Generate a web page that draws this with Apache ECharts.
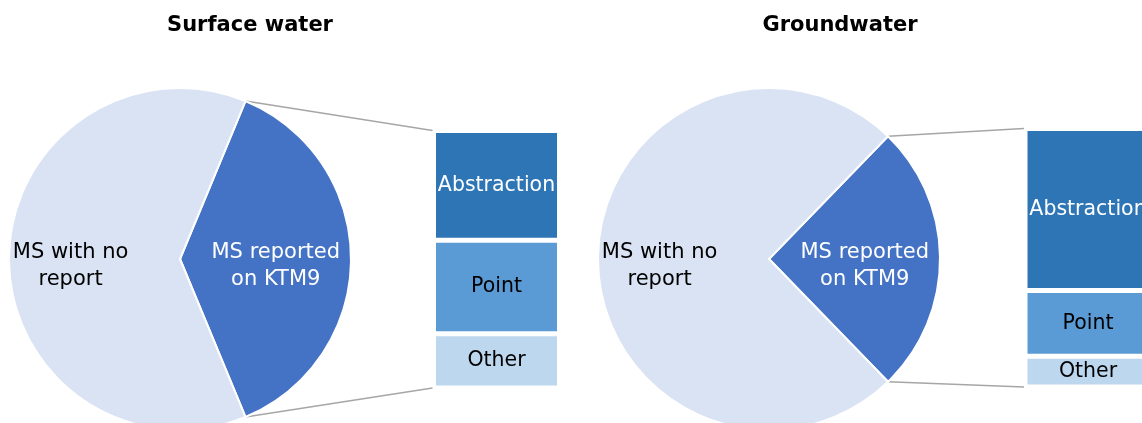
<!DOCTYPE html>
<html>
<head>
<meta charset="utf-8">
<script src="https://cdn.jsdelivr.net/npm/echarts@6/dist/echarts.min.js"></script>
<style>
html, body { margin: 0; padding: 0; background: #fff; }
#chart { width: 1142px; height: 423px; }
</style>
</head>
<body>
<div id="chart"></div>
<script>
// data
const titles = ["Surface water", "Groundwater"]
const pieNames = ["MS reported\non KTM9", "MS with no\nreport"]
const surfacePie = [37.5, 62.5]
const groundPie = [25.5, 74.5]
const barNames = ["Other", "Point", "Abstraction"]   // stacked bottom-up
const surfaceBar = [21.1, 36.3, 42.6]
const groundBar = [11.9, 25.4, 62.7]

const font = "DejaVu Sans"
const pieColors = ["#4472C4", "#DAE3F3"]
const pieText = ["#fff", "#000"]
const pieLabelR = [0.56, 0.64]   // label distance from centre, share of radius
const barColors = ["#BDD7EE", "#5B9BD5", "#2E75B6"]
const barText = ["#000", "#000", "#fff"]
const R = 171

const panels = [
	{ pie: surfacePie, bar: surfaceBar, center: [180, 259], titleX: 250,
		grid: { left: 433.5, top: 130.5, width: 126, height: 257.5 } },
	{ pie: groundPie, bar: groundBar, center: [769, 259], titleX: 840,
		grid: { left: 1025, top: 128.5, width: 126, height: 258.5 } }
]

const sum = a => a.reduce((s, v) => s + v, 0)
const halfAngle = p => p.pie[0] / sum(p.pie) * 180

const series = []
panels.forEach((p, i) => {
	series.push({
		type: "pie",
		center: p.center,
		radius: R,
		startAngle: halfAngle(p),
		clockwise: true,
		silent: true,
		animation: false,
		itemStyle: { borderColor: "#fff", borderWidth: 2 },
		label: {
			position: "inside",
			fontFamily: font,
			fontSize: 21,
			lineHeight: 27,
			overflow: "none",
			formatter: "{b}"
		},
		labelLine: { show: false },
		// reported slice is centred on the right, the other one on the left
		labelLayout: params => ({
			x: p.center[0] + (params.dataIndex === 0 ? 1 : -1) * pieLabelR[params.dataIndex] * R,
			y: p.center[1] + 7
		}),
		data: p.pie.map((v, k) => ({
			name: pieNames[k],
			value: v,
			itemStyle: { color: pieColors[k] },
			label: { color: pieText[k] }
		}))
	})
	barNames.forEach((name, k) => {
		series.push({
			type: "bar",
			name: name,
			stack: "s" + i,
			xAxisIndex: i,
			yAxisIndex: i,
			barWidth: "100%",
			silent: true,
			animation: false,
			itemStyle: { color: barColors[k], borderColor: "#fff", borderWidth: 2.5 },
			label: {
				show: true,
				position: "inside",
				formatter: name,
				fontFamily: font,
				fontSize: 20.5,
				overflow: "none",
				color: barText[k]
			},
			data: [p.bar[k]]
		})
	})
})

const chart = echarts.init(document.getElementById("chart"))
chart.setOption({
	backgroundColor: "#fff",
	grid: panels.map(p => Object.assign({ outerBoundsMode: "none", containLabel: false }, p.grid)),
	xAxis: panels.map((p, i) => ({ type: "category", gridIndex: i, data: [""], show: false })),
	yAxis: panels.map((p, i) => ({ type: "value", gridIndex: i, min: 0, max: sum(p.bar), show: false })),
	series: series
})

// titles and connector lines from pie slice edges to the bar
const graphic = []
panels.forEach((p, i) => {
	graphic.push({
		type: "text",
		style: {
			text: titles[i], x: p.titleX, y: 26,
			textAlign: "center", textVerticalAlign: "middle",
			font: "bold 21px " + font, fill: "#000"
		}
	})
	const a = halfAngle(p) * Math.PI / 180
	const sx = p.center[0] + R * Math.cos(a)
	const topY = chart.convertToPixel({ yAxisIndex: i }, sum(p.bar))
	const botY = chart.convertToPixel({ yAxisIndex: i }, 0)
	const ex = p.grid.left - 1
	const line = (x1, y1, x2, y2) => ({
		type: "line", silent: true,
		shape: { x1, y1, x2, y2 },
		style: { stroke: "#A6A6A6", lineWidth: 1.5 }
	})
	graphic.push(line(sx, p.center[1] - R * Math.sin(a), ex, topY))
	graphic.push(line(sx, p.center[1] + R * Math.sin(a), ex, botY))
})
chart.setOption({ graphic: graphic })
</script>
</body>
</html>
